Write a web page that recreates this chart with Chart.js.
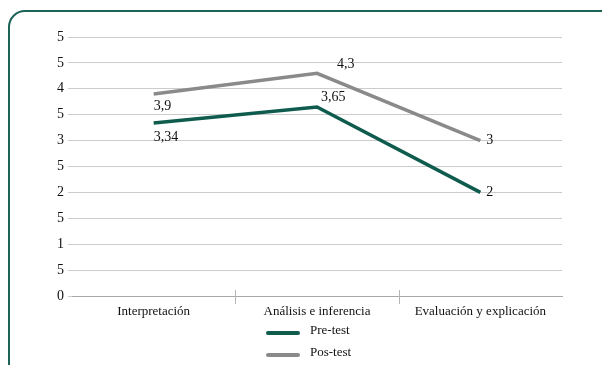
<!DOCTYPE html>
<html>
<head>
<meta charset="utf-8">
<script src="https://cdn.jsdelivr.net/npm/chart.js@4/dist/chart.umd.min.js"></script>
<style>
  html, body { margin: 0; padding: 0; background: #fff; overflow: hidden; }
  #wrap { position: relative; width: 602px; height: 365px; }
  #frame {
    position: absolute; left: 8px; top: 10px; width: 620px; height: 370px;
    border: 2px solid #1d6457; border-radius: 17px; box-sizing: border-box;
  }
  canvas { position: absolute; left: 0; top: 0; }
</style>
</head>
<body>
<div id="wrap">
  <div id="frame"></div>
  <canvas id="c" width="602" height="365"></canvas>
</div>
<script>
// Skill areas and mean scores per test
const categories = ['Interpretación', 'Análisis e inferencia', 'Evaluación y explicación'];
const preTest = [3.34, 3.65, 2];
const posTest = [3.9, 4.3, 3];
// Axis labels as printed on the value axis, from 0 up to 5 in steps of 0.5
const yTickLabels = ['0', '5', '1', '5', '2', '5', '3', '5', '4', '5', '5'];

const FONT = '"Liberation Serif", "DejaVu Serif", serif';
const GREEN = '#0f5c4f';
const GRAY = '#8a8a8a';

const fmt = v => String(v).replace('.', ',');

// Value labels next to each point: [dx, dy, align, baseline] per dataset/point
const labelPlacement = [
  [[0, 7, 'left', 'top'], [4, -3, 'left', 'bottom'], [6, 0, 'left', 'middle']],
  [[0, 5, 'left', 'top'], [20, -2, 'left', 'bottom'], [6, 0, 'left', 'middle']]
];

const valueLabels = {
  id: 'valueLabels',
  afterDatasetsDraw(chart) {
    const ctx = chart.ctx;
    ctx.save();
    ctx.font = '14px ' + FONT;
    ctx.fillStyle = '#111';
    chart.data.datasets.forEach((ds, di) => {
      chart.getDatasetMeta(di).data.forEach((pt, i) => {
        const p = labelPlacement[di][i];
        ctx.textAlign = p[2];
        ctx.textBaseline = p[3];
        ctx.fillText(fmt(ds.data[i]), pt.x + p[0], pt.y + p[1]);
      });
    });
    ctx.restore();
  }
};

// Short divider marks between categories on the horizontal axis
const categoryDividers = {
  id: 'categoryDividers',
  afterDraw(chart) {
    const xs = chart.scales.x;
    const y0 = chart.chartArea.bottom;
    const ctx = chart.ctx;
    ctx.save();
    ctx.strokeStyle = '#b5b5b5';
    ctx.lineWidth = 1;
    for (let i = 1; i < categories.length; i++) {
      const x = Math.round((xs.getPixelForTick(i - 1) + xs.getPixelForTick(i)) / 2) + 0.5;
      ctx.beginPath();
      ctx.moveTo(x, y0 - 6);
      ctx.lineTo(x, y0 + 8);
      ctx.stroke();
    }
    ctx.restore();
  }
};

// Stacked legend centred under the axis
const stackedLegend = {
  id: 'stackedLegend',
  afterDraw(chart) {
    const ctx = chart.ctx;
    const cx = (chart.chartArea.left + chart.chartArea.right) / 2;
    ctx.save();
    ctx.font = '13px ' + FONT;
    ctx.textAlign = 'left';
    ctx.textBaseline = 'middle';
    chart.data.datasets.forEach((ds, i) => {
      const y = 333 + i * 22;
      ctx.strokeStyle = ds.borderColor;
      ctx.lineWidth = 4;
      ctx.lineCap = 'round';
      ctx.beginPath();
      ctx.moveTo(cx - 49, y);
      ctx.lineTo(cx - 19, y);
      ctx.stroke();
      ctx.fillStyle = '#111';
      ctx.fillText(ds.label, cx - 7, y - 2);
    });
    ctx.restore();
  }
};

new Chart(document.getElementById('c'), {
  type: 'line',
  data: {
    labels: categories,
    datasets: [
      { label: 'Pre-test', data: preTest, borderColor: GREEN, backgroundColor: GREEN,
        borderWidth: 3.5, pointRadius: 0, tension: 0 },
      { label: 'Pos-test', data: posTest, borderColor: GRAY, backgroundColor: GRAY,
        borderWidth: 3.5, pointRadius: 0, tension: 0 }
    ]
  },
  options: {
    responsive: false,
    animation: false,
    devicePixelRatio: 1,
    layout: { padding: { left: 0, right: 40, top: 37, bottom: 0 } },
    plugins: { legend: { display: false }, tooltip: { enabled: false } },
    scales: {
      x: {
        offset: true,
        grid: { display: false, drawTicks: false },
        border: { display: true, color: '#a8a8a8', width: 1 },
        ticks: { color: '#111', font: { family: FONT, size: 13 }, padding: 8, maxRotation: 0 },
        afterFit(s) { s.height = 69; }
      },
      y: {
        min: 0, max: 5,
        ticks: {
          stepSize: 0.5,
          color: '#111',
          font: { family: FONT, size: 14 },
          padding: 4,
          callback: (v, i) => yTickLabels[i]
        },
        grid: { color: '#cccccc', lineWidth: 1, tickLength: 4 },
        border: { display: false },
        afterFit(s) { s.width = 72; }
      }
    }
  },
  plugins: [valueLabels, categoryDividers, stackedLegend]
});
</script>
</body>
</html>
